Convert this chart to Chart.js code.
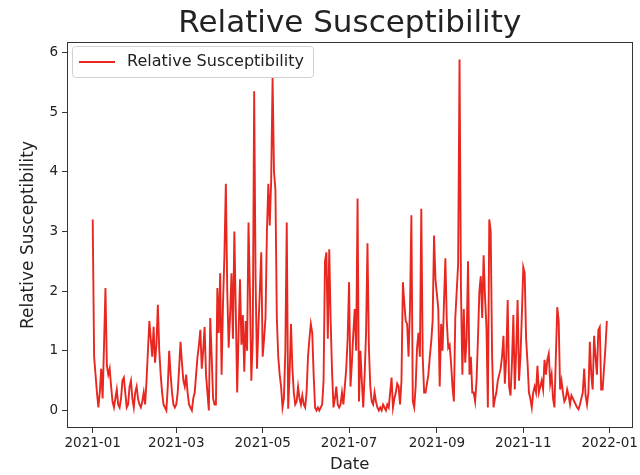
<!DOCTYPE html>
<html>
<head>
<meta charset="utf-8">
<script src="https://cdn.jsdelivr.net/npm/chart.js@4.4.1/dist/chart.umd.min.js"></script>
<style>
  html, body { margin: 0; padding: 0; background: #ffffff; }
  #wrap { width: 640px; height: 475px; }
</style>
</head>
<body>
<div id="wrap"><canvas id="c" width="640" height="475"></canvas></div>
<script>
// ---- data ----
const chartTitle = 'Relative Susceptibility';
const seriesLabel = 'Relative Susceptibility';
const xAxisLabel = 'Date';
const yAxisLabel = 'Relative Susceptibility';
const startDate = '2021-01-01';
// day offsets from startDate where the date ticks sit
const tickDays = [0, 59, 120, 181, 243, 304, 365];
const tickLabels = ['2021-01', '2021-03', '2021-05', '2021-07', '2021-09', '2021-11', '2022-01'];
const yTickValues = [0, 1, 2, 3, 4, 5, 6];
// one value per day, starting at startDate
const dailyValues = [
  3.2, 0.9, 0.6, 0.3, 0.05, 0.3, 0.7, 0.2, 1.1, 2.05,
  0.75, 0.6, 0.7, 0.4, 0.15, 0.05, 0.2, 0.35, 0.1, 0.05,
  0.2, 0.5, 0.55, 0.3, 0.05, 0.1, 0.4, 0.5, 0.2, 0.05,
  0.3, 0.4, 0.2, 0.1, 0.05, 0.15, 0.3, 0.1, 0.5, 1.0,
  1.5, 1.2, 0.9, 1.4, 0.8, 1.1, 1.77, 1.0, 0.6, 0.3,
  0.1, 0.05, 0.0, 0.4, 1.0, 0.6, 0.3, 0.1, 0.05, 0.1,
  0.3, 0.7, 1.15, 0.8, 0.5, 0.4, 0.6, 0.3, 0.1, 0.05,
  0.0, 0.2, 0.3, 0.6, 0.9, 1.1, 1.35, 0.7, 1.0, 1.4,
  0.6, 0.3, 0.0, 1.55, 0.9, 0.2, 0.1, 0.1, 2.05, 1.3,
  2.3, 0.6, 1.8, 2.6, 3.8, 2.0, 1.05, 1.6, 2.3, 1.2,
  3.0, 1.7, 0.3, 1.3, 2.2, 1.1, 1.6, 0.65, 1.5, 1.0,
  3.15, 2.0, 0.5, 1.2, 5.35, 2.2, 0.7, 1.4, 2.0, 2.65,
  0.9, 1.2, 1.55, 3.0, 3.8, 3.1, 3.85, 5.57, 4.0, 3.7,
  1.55, 0.9, 0.6, 0.4, 0.05, 0.2, 1.0, 3.15, 0.03, 0.6,
  1.45, 0.7, 0.3, 0.1, 0.15, 0.4, 0.2, 0.1, 0.25, 0.1,
  0.05, 0.3, 0.9, 1.2, 1.45, 1.3, 0.6, 0.05, 0.0, 0.05,
  0.0, 0.05, 0.1, 0.5, 2.5, 2.65, 1.2, 2.7, 1.5, 0.65,
  0.05, 0.2, 0.4, 0.1, 0.05, 0.1, 0.3, 0.1, 0.4, 0.7,
  1.2, 2.15, 0.4, 0.8, 1.3, 1.7, 1.0, 3.55, 0.15, 1.0,
  0.5, 0.05, 0.6, 1.3, 2.8, 1.05, 0.4, 0.15, 0.1, 0.3,
  0.15, 0.05, 0.0, 0.05, 0.0, 0.1, 0.05, 0.0, 0.1, 0.05,
  0.3, 0.55, 0.05, 0.2, 0.3, 0.45, 0.4, 0.1, 0.5, 2.15,
  1.8, 1.5, 1.45, 0.9, 1.7, 3.27, 0.15, 0.05, 0.4, 1.05,
  1.3, 0.9, 3.38, 0.9, 0.3, 0.3, 0.45, 0.6, 0.9, 1.15,
  1.5, 2.93, 2.2, 1.95, 1.7, 0.4, 1.45, 1.0, 1.8, 2.55,
  1.5, 1.05, 1.1, 0.8, 0.4, 0.15, 1.55, 2.0, 2.45, 5.88,
  2.05, 0.6, 1.7, 0.8, 1.2, 2.5, 0.6, 0.9, 0.3, 0.3,
  0.15, 0.5, 1.2, 2.0, 2.25, 1.55, 2.6, 1.9, 1.4, 0.05,
  3.2, 3.0, 0.9, 0.05, 0.2, 0.3, 0.5, 0.6, 0.7, 0.9,
  1.25, 0.45, 0.9, 1.85, 0.4, 0.25, 0.8, 1.6, 0.35, 1.0,
  1.85, 0.5, 0.9, 1.6, 2.4, 2.3, 1.2, 0.8, 0.3, 0.2,
  0.05, 0.3, 0.4, 0.3, 0.75, 0.3, 0.4, 0.5, 0.35, 0.85,
  0.6, 0.85, 0.95, 0.45, 0.6, 0.2, 0.05, 0.9, 1.73, 1.5,
  0.35, 0.5, 0.3, 0.15, 0.2, 0.35, 0.25, 0.1, 0.25, 0.2,
  0.15, 0.1, 0.05, 0.02, 0.1, 0.2, 0.3, 0.7, 0.25, 0.1,
  0.3, 1.15, 0.6, 0.35, 1.25, 0.9, 0.6, 1.35, 1.4, 0.35,
  0.35, 0.7, 1.05, 1.5
];

// ---- styling ----
const FONT = "'DejaVu Sans', sans-serif";
const LINE_COLOR = 'rgb(232, 40, 32)';
const TEXT_COLOR = '#222222';

const points = dailyValues.map((v, i) => ({ x: i, y: v }));
const lastDay = dailyValues.length - 1;
const maxVal = Math.max(...dailyValues);
const xMargin = lastDay * 0.05;
const yMargin = maxVal * 0.05;

const framePlugin = {
  id: 'frame',
  afterDraw(chart) {
    const { ctx, chartArea: a } = chart;
    ctx.save();
    ctx.strokeStyle = '#333333';
    ctx.lineWidth = 1;
    ctx.strokeRect(Math.round(a.left) + 0.5, Math.round(a.top) + 0.5,
                   Math.round(a.right - a.left) - 1, Math.round(a.bottom - a.top) - 1);
    ctx.restore();
  }
};

const titlePlugin = {
  id: 'mplTitle',
  afterDraw(chart) {
    const { ctx, chartArea: a } = chart;
    ctx.save();
    ctx.font = '31px ' + FONT;
    ctx.fillStyle = TEXT_COLOR;
    ctx.textAlign = 'center';
    ctx.textBaseline = 'alphabetic';
    ctx.fillText(chartTitle, (a.left + a.right) / 2, a.top - 10);
    ctx.restore();
  }
};

const legendPlugin = {
  id: 'innerLegend',
  afterDraw(chart) {
    const { ctx, chartArea: a } = chart;
    const ds = chart.data.datasets[0];
    ctx.save();
    ctx.font = '16px ' + FONT;
    const tw = ctx.measureText(ds.label).width;
    const bx = a.left + 5, by = a.top + 4;
    const bw = 55 + tw + 9, bh = 31;
    ctx.beginPath();
    if (ctx.roundRect) ctx.roundRect(bx + 0.5, by + 0.5, bw, bh, 3);
    else ctx.rect(bx + 0.5, by + 0.5, bw, bh);
    ctx.fillStyle = 'rgba(255,255,255,0.85)';
    ctx.fill();
    ctx.strokeStyle = '#d0d0d0';
    ctx.lineWidth = 1;
    ctx.stroke();
    const ly = by + bh / 2 + 0.5;
    ctx.beginPath();
    ctx.moveTo(bx + 7, ly);
    ctx.lineTo(bx + 43, ly);
    ctx.strokeStyle = ds.borderColor;
    ctx.lineWidth = 2;
    ctx.stroke();
    ctx.fillStyle = TEXT_COLOR;
    ctx.textBaseline = 'middle';
    ctx.textAlign = 'left';
    ctx.fillText(ds.label, bx + 55, ly);
    ctx.restore();
  }
};

new Chart(document.getElementById('c'), {
  type: 'line',
  data: {
    datasets: [{
      label: seriesLabel,
      data: points,
      borderColor: LINE_COLOR,
      backgroundColor: LINE_COLOR,
      borderWidth: 1.9,
      pointRadius: 0,
      tension: 0,
      fill: false
    }]
  },
  options: {
    responsive: false,
    animation: false,
    layout: { padding: { top: 42, right: 3, left: 0, bottom: 0 } },
    plugins: {
      legend: { display: false },
      title: { display: false },
      tooltip: { enabled: false }
    },
    scales: {
      x: {
        type: 'linear',
        min: -xMargin,
        max: lastDay + xMargin,
        afterFit(scale) { scale.height = 47; },
        afterBuildTicks(scale) { scale.ticks = tickDays.map(v => ({ value: v })); },
        ticks: {
          autoSkip: false,
          maxRotation: 0,
          color: TEXT_COLOR,
          font: { family: FONT, size: 13.5 },
          padding: 2,
          callback(value) {
            const i = tickDays.indexOf(value);
            return i >= 0 ? tickLabels[i] : '';
          }
        },
        grid: { display: true, drawOnChartArea: false, drawTicks: true, tickLength: 5, color: '#333333' },
        border: { display: false },
        title: { display: true, text: xAxisLabel, color: TEXT_COLOR, font: { family: FONT, size: 16.5 }, padding: { top: 0, bottom: 0 } }
      },
      y: {
        type: 'linear',
        min: -yMargin,
        max: maxVal + yMargin,
        afterFit(scale) { scale.width = 67; },
        afterBuildTicks(scale) { scale.ticks = yTickValues.map(v => ({ value: v })); },
        ticks: {
          color: TEXT_COLOR,
          font: { family: FONT, size: 13.5 },
          padding: 4,
          callback(value) { return String(value); }
        },
        grid: { display: true, drawOnChartArea: false, drawTicks: true, tickLength: 5, color: '#333333' },
        border: { display: false },
        title: { display: true, text: yAxisLabel, color: TEXT_COLOR, font: { family: FONT, size: 17 }, padding: { top: 18, bottom: 0 } }
      }
    }
  },
  plugins: [framePlugin, titlePlugin, legendPlugin]
});
</script>
</body>
</html>
